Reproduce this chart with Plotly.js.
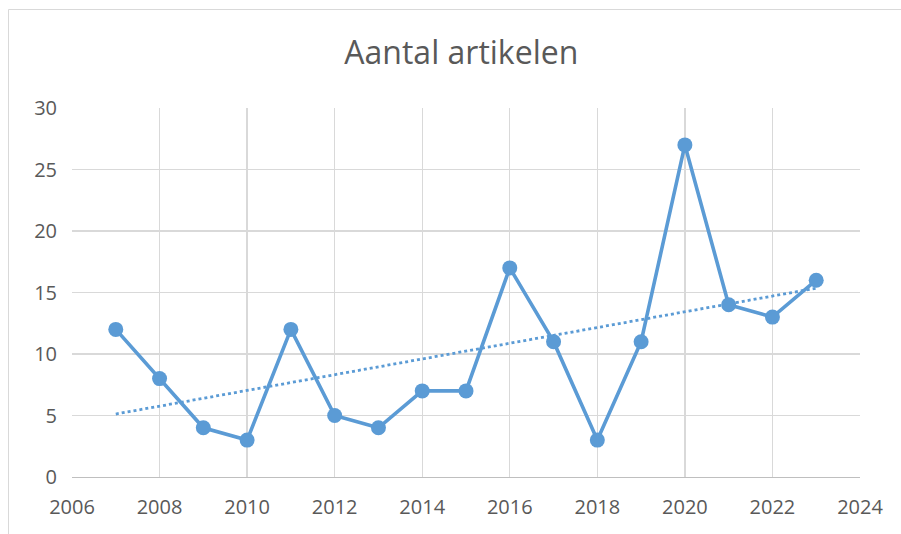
<!DOCTYPE html>
<html>
<head>
<meta charset="utf-8">
<script src="https://cdn.plot.ly/plotly-3.0.1.min.js"></script>
<style>
html,body{margin:0;padding:0;background:#fff;}
#chart{width:901px;height:534px;}
</style>
</head>
<body>
<div id="chart"></div>
<script>
// Data
const years = [2007, 2008, 2009, 2010, 2011, 2012, 2013, 2014, 2015, 2016, 2017, 2018, 2019, 2020, 2021, 2022, 2023];
const articles = [12, 8, 4, 3, 12, 5, 4, 7, 7, 17, 11, 3, 11, 27, 14, 13, 16];
// Linear trendline endpoints
const trendYears = [2007, 2023];
const trendValues = [5.12, 15.35];
const chartTitle = "Aantal artikelen";

const blue = "#5B9BD5";
const fontFam = "'Open Sans', 'Noto Sans', sans-serif";

const traces = [
  {
    x: trendYears, y: trendValues, type: "scatter", mode: "lines",
    line: {color: blue, width: 2.8, dash: "dot"}, hoverinfo: "skip", showlegend: false
  },
  {
    x: years, y: articles, type: "scatter", mode: "lines+markers",
    line: {color: blue, width: 3.6},
    marker: {color: blue, size: 15},
    showlegend: false
  }
];

const layout = {
  width: 901, height: 534,
  margin: {l: 72, r: 41, t: 108, b: 57, pad: 0},
  paper_bgcolor: "#ffffff", plot_bgcolor: "#ffffff",
  font: {family: fontFam, color: "#595959", size: 20},
  title: {text: chartTitle, font: {family: fontFam, size: 32, color: "#595959"},
          x: 0.512, xanchor: "center", y: 0.901, yanchor: "middle"},
  xaxis: {
    range: [2006, 2024], dtick: 2, tick0: 2006,
    showgrid: true, gridcolor: "#d9d9d9", gridwidth: 1.3,
    showline: true, linecolor: "#bfbfbf", linewidth: 1.3,
    zeroline: false, ticks: "", ticklabelstandoff: 12,
    tickfont: {size: 20, color: "#595959"}, fixedrange: true
  },
  yaxis: {
    range: [0, 30], dtick: 5, tick0: 0,
    showgrid: true, gridcolor: "#d9d9d9", gridwidth: 1.3,
    showline: false, zeroline: false, ticks: "", ticklabelstandoff: 14,
    tickfont: {size: 20, color: "#595959"}, fixedrange: true
  },
  shapes: [
    {type: "rect", xref: "paper", yref: "paper",
     x0: (8.5 - 72) / 788, x1: 1.2, y0: -0.5, y1: (477 - 9.5) / 369,
     line: {color: "#d9d9d9", width: 1}, fillcolor: "rgba(0,0,0,0)", layer: "below"}
  ]
};

Plotly.newPlot("chart", traces, layout, {displayModeBar: false, staticPlot: true});
</script>
</body>
</html>
